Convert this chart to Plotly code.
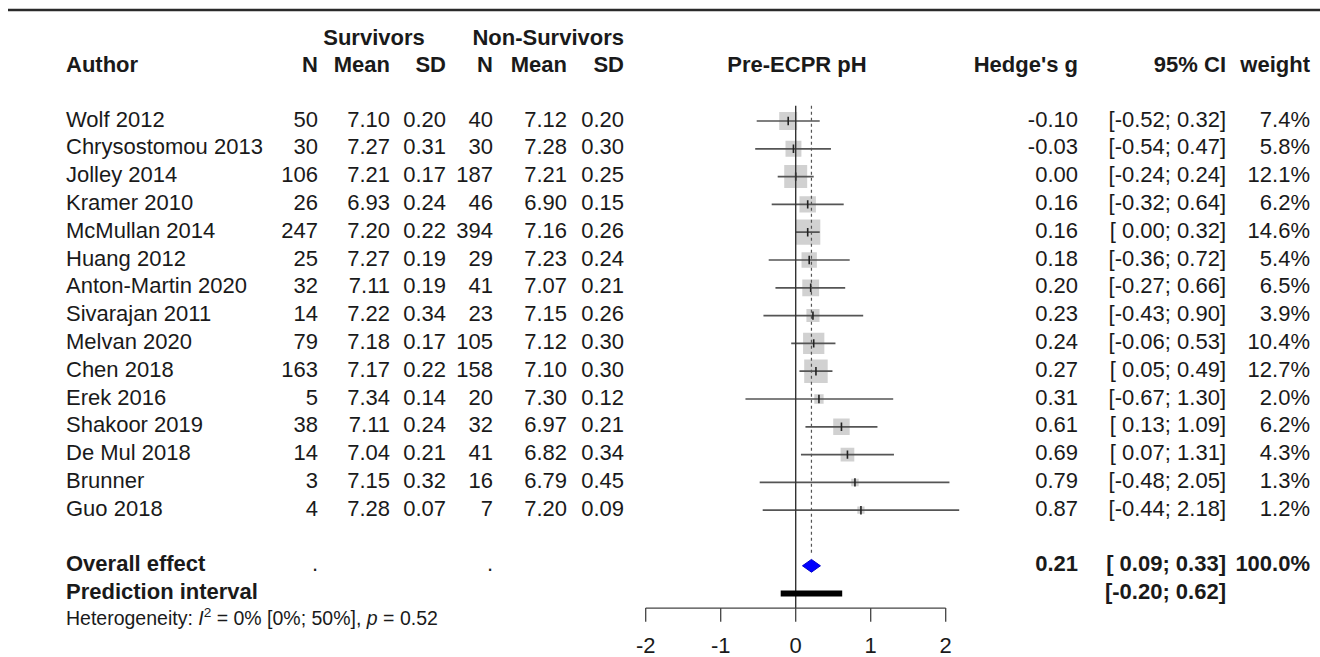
import plotly.graph_objects as go

# ---------------- data ----------------
authors = ["Wolf 2012", "Chrysostomou 2013", "Jolley 2014", "Kramer 2010", "McMullan 2014",
           "Huang 2012", "Anton-Martin 2020", "Sivarajan 2011", "Melvan 2020", "Chen 2018",
           "Erek 2016", "Shakoor 2019", "De Mul 2018", "Brunner", "Guo 2018"]
n_surv = [50, 30, 106, 26, 247, 25, 32, 14, 79, 163, 5, 38, 14, 3, 4]
mean_surv = [7.10, 7.27, 7.21, 6.93, 7.20, 7.27, 7.11, 7.22, 7.18, 7.17, 7.34, 7.11, 7.04, 7.15, 7.28]
sd_surv = [0.20, 0.31, 0.17, 0.24, 0.22, 0.19, 0.19, 0.34, 0.17, 0.22, 0.14, 0.24, 0.21, 0.32, 0.07]
n_non = [40, 30, 187, 46, 394, 29, 41, 23, 105, 158, 20, 32, 41, 16, 7]
mean_non = [7.12, 7.28, 7.21, 6.90, 7.16, 7.23, 7.07, 7.15, 7.12, 7.10, 7.30, 6.97, 6.82, 6.79, 7.20]
sd_non = [0.20, 0.30, 0.25, 0.15, 0.26, 0.24, 0.21, 0.26, 0.30, 0.30, 0.12, 0.21, 0.34, 0.45, 0.09]
hedges_g = [-0.10, -0.03, 0.00, 0.16, 0.16, 0.18, 0.20, 0.23, 0.24, 0.27, 0.31, 0.61, 0.69, 0.79, 0.87]
ci_low = [-0.52, -0.54, -0.24, -0.32, 0.00, -0.36, -0.27, -0.43, -0.06, 0.05, -0.67, 0.13, 0.07, -0.48, -0.44]
ci_high = [0.32, 0.47, 0.24, 0.64, 0.32, 0.72, 0.66, 0.90, 0.53, 0.49, 1.30, 1.09, 1.31, 2.05, 2.18]
weights = [7.4, 5.8, 12.1, 6.2, 14.6, 5.4, 6.5, 3.9, 10.4, 12.7, 2.0, 6.2, 4.3, 1.3, 1.2]

overall_g = 0.21
overall_ci = [0.09, 0.33]
overall_weight = 100.0
pred_interval = [-0.20, 0.62]
axis_ticks = [-2, -1, 0, 1, 2]
heterogeneity = "Heterogeneity: <i>I</i><sup>2</sup> = 0% [0%; 50%], <i>p</i> = 0.52"

# ---------------- layout helpers ----------------
FONT = "Liberation Sans, Arial, sans-serif"
FS = 22
TXT = "#1a1a1a"
W, H = 1320, 657
ROW0_PX, ROW_PX = 121.0, 27.8       # pixel y of first study row, row spacing
ZERO_PX, UNIT_PX = 795.7, 75.0      # pixel x of effect 0, pixels per unit

# column anchors (pixels)
X_AUTHOR = 66
X_N1, X_M1, X_S1 = 318, 390, 446
X_N2, X_M2, X_S2 = 493, 567, 624
X_G, X_CI, X_W = 1078, 1226, 1310

rows = list(range(len(authors)))
row_overall = len(authors) + 1
row_pred = row_overall + 1
row_axis = 17.52
row_tick_end = 18.01
row_ticklab = 18.93
row_het = 17.97
row_head1, row_head2 = -2.92, -1.95

y_top = -ROW0_PX / ROW_PX
y_bot = (H - ROW0_PX) / ROW_PX
xr = [-2.5, 2.5]
dom = [(ZERO_PX + UNIT_PX * xr[0]) / W, (ZERO_PX + UNIT_PX * xr[1]) / W]


def f2(v):
    return f"{v:.2f}"


def fmt_ci(lo, hi, lo_vals, hi_vals):
    wl = max(len(f2(v)) for v in lo_vals)
    wh = max(len(f2(v)) for v in hi_vals)
    return "[" + f2(lo).rjust(wl) + "; " + f2(hi).rjust(wh) + "]"


fig = go.Figure()


def text_col(x, ys, texts, pos="middle left", bold=False, size=FS):
    t = [f"<b>{s}</b>" for s in texts] if bold else texts
    fig.add_trace(go.Scatter(
        x=[x] * len(ys), y=ys, text=t, mode="text", textposition=pos,
        textfont=dict(family=FONT, size=size, color=TXT), cliponaxis=False,
        xaxis="x", yaxis="y", hoverinfo="skip", showlegend=False))


# headers
text_col(X_AUTHOR, [row_head2], ["Author"], pos="middle right", bold=True)
text_col(374, [row_head1], ["Survivors"], pos="middle center", bold=True)
text_col(X_S2, [row_head1], ["Non-Survivors"], pos="middle left", bold=True)
for x, lab in [(X_N1, "N"), (X_M1, "Mean"), (X_S1, "SD"), (X_N2, "N"), (X_M2, "Mean"), (X_S2, "SD")]:
    text_col(x, [row_head2], [lab], bold=True)
text_col(797, [row_head2], ["Pre-ECPR pH"], pos="middle center", bold=True)
text_col(X_G, [row_head2], ["Hedge's g"], bold=True)
text_col(X_CI, [row_head2], ["95% CI"], bold=True)
text_col(X_W, [row_head2], ["weight"], bold=True)

# study columns
text_col(X_AUTHOR, rows, authors, pos="middle right")
text_col(X_N1, rows, [str(v) for v in n_surv])
text_col(X_M1, rows, [f2(v) for v in mean_surv])
text_col(X_S1, rows, [f2(v) for v in sd_surv])
text_col(X_N2, rows, [str(v) for v in n_non])
text_col(X_M2, rows, [f2(v) for v in mean_non])
text_col(X_S2, rows, [f2(v) for v in sd_non])
text_col(X_G, rows, [f2(v) for v in hedges_g])
text_col(X_CI, rows, [fmt_ci(l, h, ci_low, ci_high) for l, h in zip(ci_low, ci_high)])
text_col(X_W, rows, [f"{v:.1f}%" for v in weights])

# overall / prediction rows
text_col(X_AUTHOR, [row_overall, row_pred], ["Overall effect", "Prediction interval"], pos="middle right", bold=True)
text_col(X_N1, [row_overall], ["."], pos="middle left")
text_col(X_N2, [row_overall], ["."], pos="middle left")
text_col(X_G, [row_overall], [f2(overall_g)], bold=True)
text_col(X_CI, [row_overall, row_pred],
         [fmt_ci(overall_ci[0], overall_ci[1], [overall_ci[0]] + pred_interval[:1], [overall_ci[1]]),
          fmt_ci(pred_interval[0], pred_interval[1], [pred_interval[0]], [pred_interval[1]])], bold=True)
text_col(X_W, [row_overall], [f"{overall_weight:.1f}%"], bold=True)
text_col(X_AUTHOR, [row_het], [heterogeneity], pos="middle right", size=19.5)

# ---------------- forest panel ----------------
# squares (area ~ weight)
fig.add_trace(go.Scatter(
    x=hedges_g, y=rows, mode="markers", xaxis="x2", yaxis="y",
    marker=dict(symbol="square", size=[6.6 * w ** 0.5 for w in weights],
                color="#bdbdbd", line=dict(width=0)),
    hoverinfo="skip", showlegend=False))

# CI lines
ci_x, ci_y = [], []
for r, l, h in zip(rows, ci_low, ci_high):
    ci_x += [l, h, None]
    ci_y += [r, r, None]
fig.add_trace(go.Scatter(x=ci_x, y=ci_y, mode="lines", xaxis="x2", yaxis="y",
                         line=dict(color="#555555", width=1.7),
                         hoverinfo="skip", showlegend=False))
# point estimate marks
fig.add_trace(go.Scatter(x=hedges_g, y=rows, mode="markers", xaxis="x2", yaxis="y",
                         marker=dict(symbol="line-ns", size=6, line=dict(color="#222", width=1.6)),
                         hoverinfo="skip", showlegend=False))

# vertical no-effect line and overall dotted line
fig.add_trace(go.Scatter(x=[0, 0], y=[-0.55, row_axis], mode="lines", xaxis="x2", yaxis="y",
                         line=dict(color="#333", width=1.4), hoverinfo="skip", showlegend=False))
fig.add_trace(go.Scatter(x=[overall_g, overall_g], y=[-0.55, row_overall - 0.4], mode="lines",
                         xaxis="x2", yaxis="y", line=dict(color="#555", width=1.2, dash="dot"),
                         hoverinfo="skip", showlegend=False))

# overall diamond
dh = 0.23
fig.add_trace(go.Scatter(
    x=[overall_ci[0], overall_g, overall_ci[1], overall_g, overall_ci[0]],
    y=[row_overall, row_overall - dh, row_overall, row_overall + dh, row_overall],
    mode="lines", fill="toself", fillcolor="#0000ff", line=dict(color="#0000cc", width=1),
    xaxis="x2", yaxis="y", hoverinfo="skip", showlegend=False))

# prediction interval bar
fig.add_trace(go.Scatter(x=pred_interval, y=[row_pred, row_pred], mode="lines", xaxis="x2", yaxis="y",
                         line=dict(color="black", width=6), hoverinfo="skip", showlegend=False))

# x axis drawn R-style
ax_x = [axis_ticks[0], axis_ticks[-1], None]
ax_y = [row_axis, row_axis, None]
for t in axis_ticks:
    ax_x += [t, t, None]
    ax_y += [row_axis, row_tick_end, None]
fig.add_trace(go.Scatter(x=ax_x, y=ax_y, mode="lines", xaxis="x2", yaxis="y",
                         line=dict(color="#444", width=1.3), hoverinfo="skip", showlegend=False))
fig.add_trace(go.Scatter(x=axis_ticks, y=[row_ticklab] * len(axis_ticks), text=[str(t) for t in axis_ticks],
                         mode="text", textposition="middle center", xaxis="x2", yaxis="y", cliponaxis=False,
                         textfont=dict(family=FONT, size=FS, color=TXT), hoverinfo="skip", showlegend=False))

fig.update_layout(
    width=W, height=H, margin=dict(l=0, r=0, t=0, b=0),
    paper_bgcolor="white", plot_bgcolor="rgba(0,0,0,0)",
    xaxis=dict(domain=[0, 1], range=[0, W], visible=False, fixedrange=True),
    xaxis2=dict(domain=dom, range=xr, visible=False, anchor="y", fixedrange=True),
    yaxis=dict(range=[y_bot, y_top], visible=False, fixedrange=True),
    shapes=[dict(type="line", xref="paper", yref="paper", x0=8 / W, x1=1, y0=1 - 10 / H, y1=1 - 10 / H,
                 line=dict(color="#2a2a2a", width=2.5))],
)

fig.write_html("out.html", config={"displayModeBar": False},
               post_script="document.body.style.margin='0';document.body.style.overflow='hidden';")
